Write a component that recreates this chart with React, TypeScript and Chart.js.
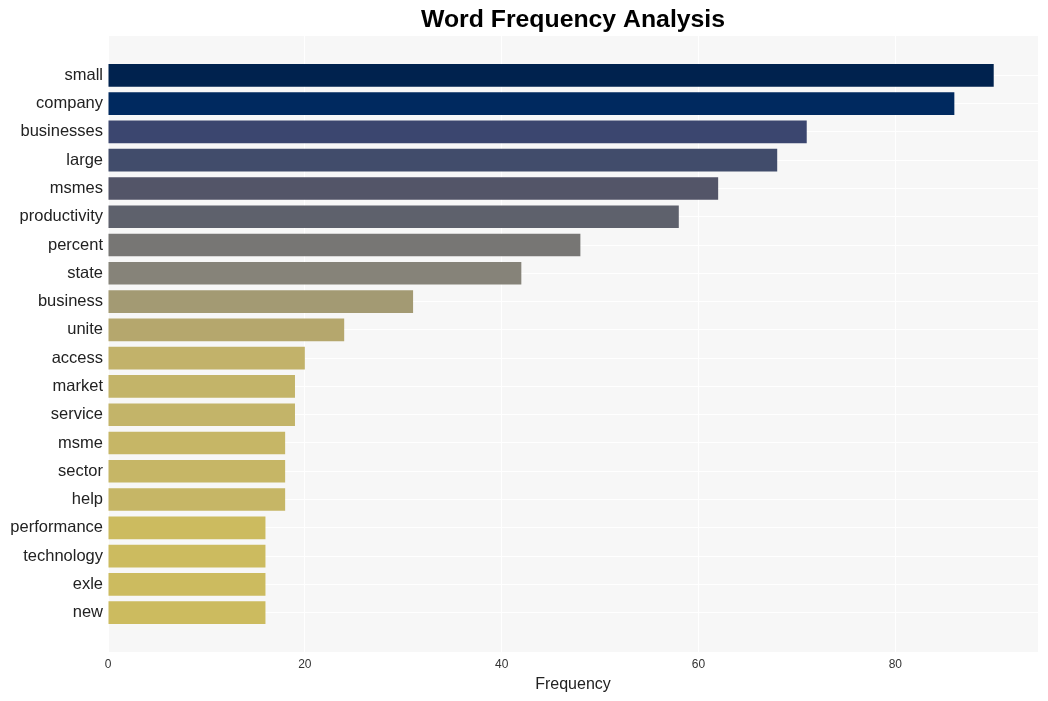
import React, { useEffect, useRef } from "react";
import { Chart, registerables } from "chart.js";

Chart.register(...registerables);

const TITLE = "Word Frequency Analysis";
const X_LABEL = "Frequency";

const words = [
  "small", "company", "businesses", "large", "msmes", "productivity", "percent",
  "state", "business", "unite", "access", "market", "service", "msme", "sector",
  "help", "performance", "technology", "exle", "new",
];

const counts = [90, 86, 71, 68, 62, 58, 48, 42, 31, 24, 20, 19, 19, 18, 18, 18, 16, 16, 16, 16];

const barColors = [
  "#00224e", "#00295f", "#3b466f", "#414c6b", "#535568", "#5e616c", "#777674",
  "#868379", "#a39a73", "#b5a76d", "#c2b26a", "#c3b469", "#c3b469", "#c6b666",
  "#c6b666", "#c6b666", "#ccbb5f", "#ccbb5f", "#ccbb5f", "#ccbb5f",
];

const xTicks = [0, 20, 40, 60, 80];

const FONT = "'Liberation Sans', Arial, Helvetica, sans-serif";

const backgroundPlugin = {
  id: "plotBackground",
  beforeDraw(chart: any) {
    const { ctx, chartArea } = chart;
    ctx.save();
    ctx.fillStyle = "#f7f7f7";
    ctx.fillRect(chartArea.left, chartArea.top, chartArea.right - chartArea.left, chartArea.bottom - chartArea.top);
    ctx.restore();
  },
};

const titlePlugin = {
  id: "centeredTitle",
  afterDraw(chart: any) {
    const { ctx, chartArea } = chart;
    ctx.save();
    ctx.font = `bold 24.8px ${FONT}`;
    ctx.fillStyle = "#000000";
    ctx.textAlign = "center";
    ctx.textBaseline = "middle";
    ctx.fillText(TITLE, (chartArea.left + chartArea.right) / 2, 20);
    ctx.restore();
  },
};

export default function App() {
  const canvasRef = useRef<HTMLCanvasElement | null>(null);

  useEffect(() => {
    if (!canvasRef.current) return;
    const n = words.length;
    const chart = new Chart(canvasRef.current, {
      type: "bar",
      data: {
        datasets: [
          {
            data: counts.map((v, i) => ({ x: v, y: i })),
            backgroundColor: barColors,
            borderWidth: 0,
            barPercentage: 0.8,
            categoryPercentage: 1.0,
          },
        ],
      },
      plugins: [backgroundPlugin, titlePlugin],
      options: {
        indexAxis: "y",
        animation: false,
        responsive: false,
        layout: { padding: { top: 36, right: 10, left: 0, bottom: 0 } },
        plugins: {
          legend: { display: false },
          tooltip: { enabled: false },
          title: { display: false },
        },
        scales: {
          x: {
            type: "linear",
            position: "bottom",
            min: 0,
            max: 94.5,
            bounds: "data",
            offset: false,
            afterFit: (scale: any) => {
              scale.height = 49;
            },
            afterBuildTicks: (scale: any) => {
              scale.ticks = xTicks.map((v) => ({ value: v }));
            },
            ticks: {
              color: "#333333",
              font: { family: FONT, size: 12 },
              padding: 5,
              maxRotation: 0,
              autoSkip: false,
            },
            grid: { color: "#ffffff", lineWidth: 1, drawTicks: false, offset: false },
            border: { display: false },
            title: {
              display: true,
              text: X_LABEL,
              color: "#222222",
              font: { family: FONT, size: 16 },
              padding: { top: 0, bottom: 7 },
            },
          },
          y: {
            type: "linear",
            position: "left",
            reverse: true,
            bounds: "data",
            offset: false,
            min: -1.39,
            max: n - 1 + 1.39,
            afterFit: (scale: any) => {
              scale.width = 108;
            },
            afterBuildTicks: (scale: any) => {
              scale.ticks = words.map((_, i) => ({ value: i }));
            },
            ticks: {
              color: "#222222",
              font: { family: FONT, size: 16.5 },
              padding: 5,
              autoSkip: false,
              callback: (value: any) => words[Number(value)] ?? "",
            },
            grid: { color: "#ffffff", lineWidth: 1, drawTicks: false, offset: false },
            border: { display: false },
          },
        },
      },
    } as any);
    return () => chart.destroy();
  }, []);

  return (
    <div style={{ position: "fixed", left: 0, top: 0, width: 1048, height: 701, background: "#ffffff" }}>
      <canvas ref={canvasRef} width={1048} height={701} style={{ display: "block" }} />
    </div>
  );
}
